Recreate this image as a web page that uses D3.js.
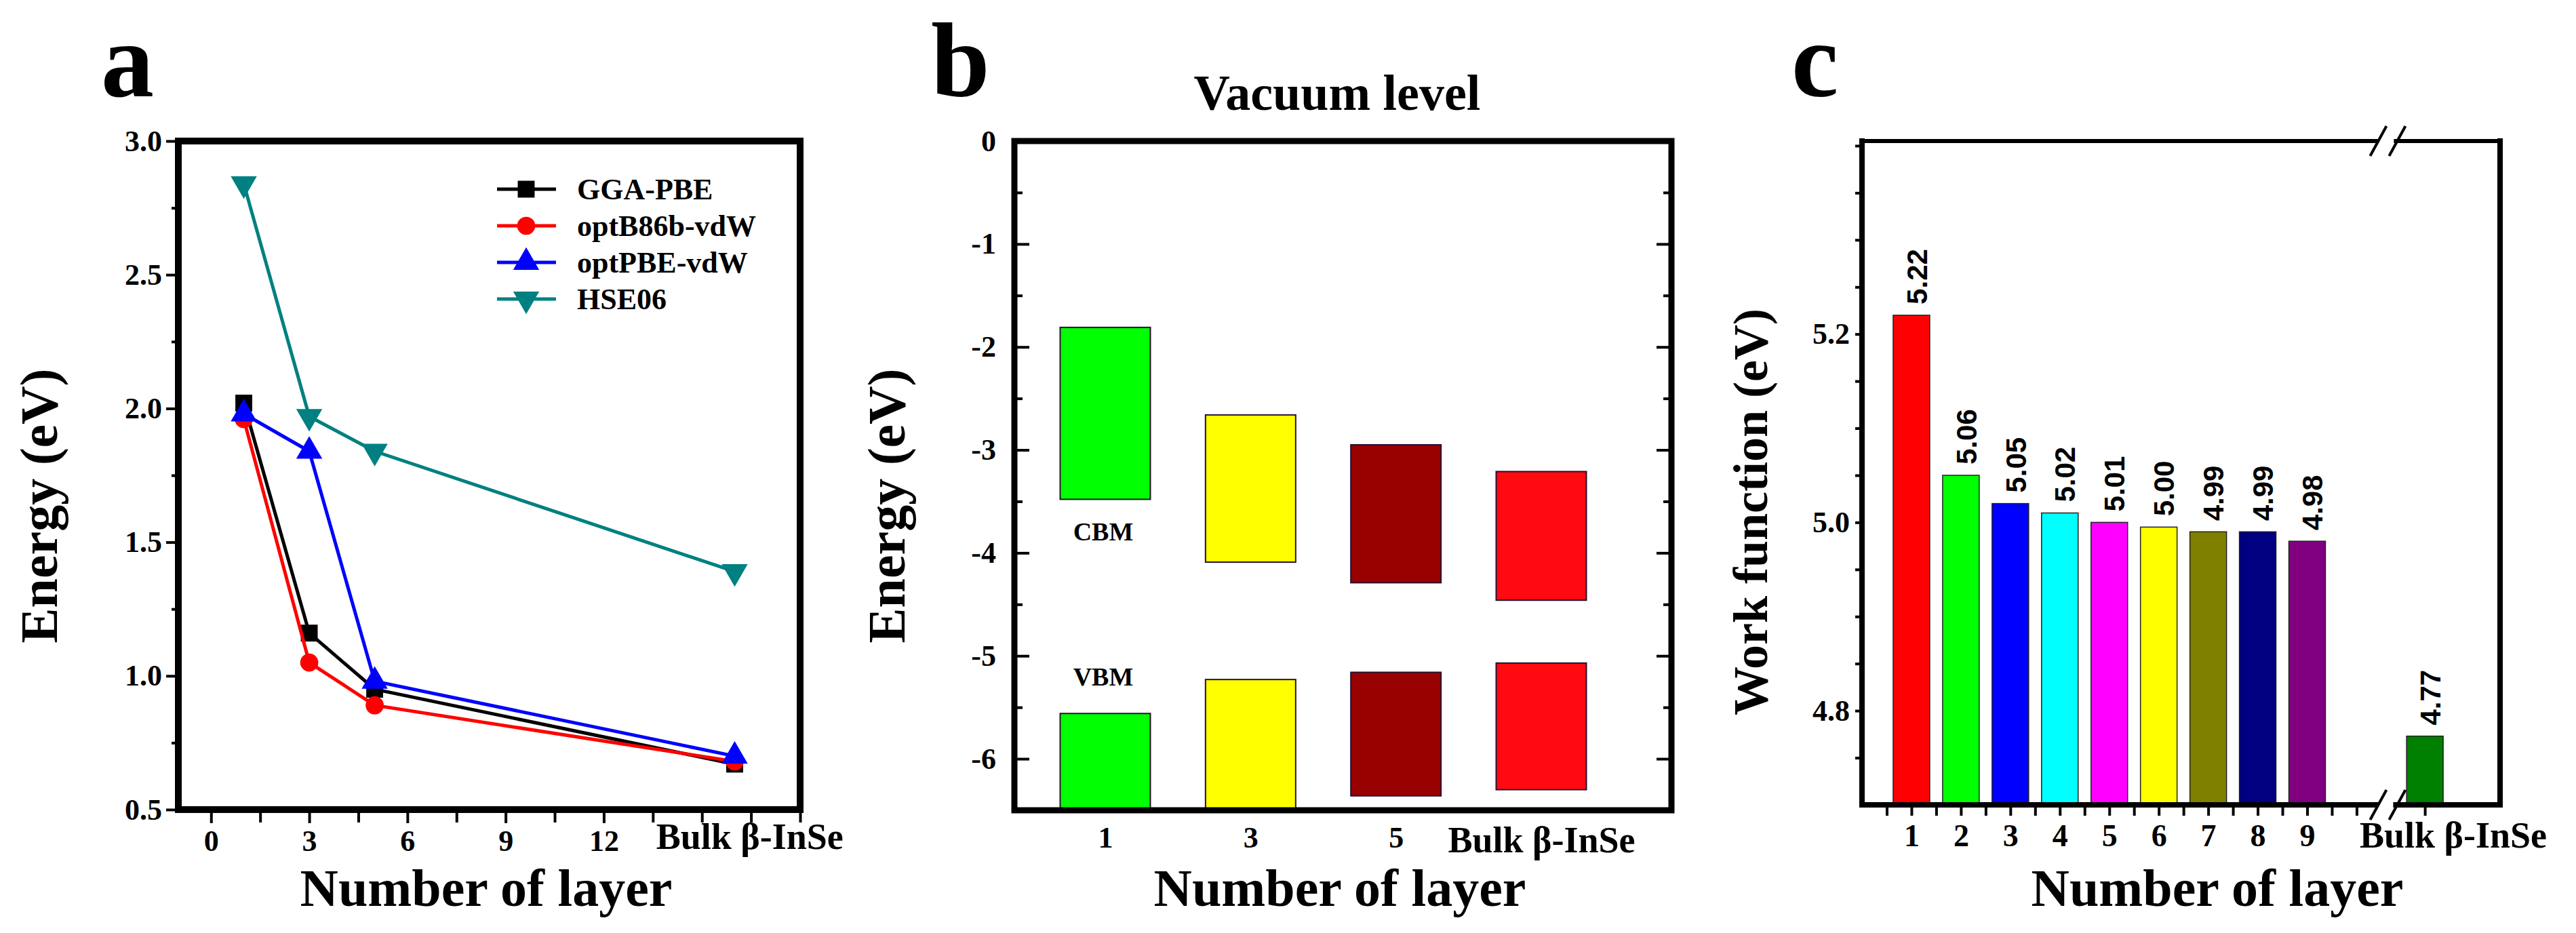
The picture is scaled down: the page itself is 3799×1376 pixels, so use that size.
<!DOCTYPE html>
<html>
<head>
<meta charset="utf-8">
<script src="https://cdn.jsdelivr.net/npm/d3@7"></script>
<style>
  body { margin: 0; background: #fff; }
  svg { display: block; }
</style>
</head>
<body>
<div id="chart"></div>
<script>
// ---- panel a : band gap vs number of layers ----
const layersA = [1, 3, 5, 16];           // 16 = where the bulk point is drawn
const ggaPBE  = [2.02, 1.16, 0.95, 0.67];
const optB86b = [1.96, 1.05, 0.89, 0.68];
const optPBE  = [1.98, 1.84, 0.98, 0.70];
const hse06   = [2.84, 1.97, 1.84, 1.39];
const seriesNamesA = ["GGA-PBE", "optB86b-vdW", "optPBE-vdW", "HSE06"];
const xTicksA = [0, 3, 6, 9, 12];
const yTicksA = [0.5, 1.0, 1.5, 2.0, 2.5, 3.0];

// ---- panel b : band edges relative to vacuum ----
const layersB   = ["1", "3", "5", "Bulk β-InSe"];
const cbmTop    = [-1.81, -2.66, -2.95, -3.21];
const cbmBottom = [-3.48, -4.09, -4.29, -4.46];
const vbmTop    = [-5.56, -5.23, -5.16, -5.07];
const vbmBottom = [-6.50, -6.50, -6.36, -6.30];
const yTicksB   = [0, -1, -2, -3, -4, -5, -6];

// ---- panel c : work function ----
const layersC    = ["1", "2", "3", "4", "5", "6", "7", "8", "9", "Bulk β-InSe"];
const workFn     = [5.22, 5.05, 5.02, 5.01, 5.00, 4.995, 4.99, 4.99, 4.98, 4.773];
const workLabels = ["5.22", "5.06", "5.05", "5.02", "5.01", "5.00", "4.99", "4.99", "4.98", "4.77"];
const yTicksC    = [4.8, 5.0, 5.2];

const serif = "'Liberation Serif', 'Times New Roman', serif";
const colorsA = ["#000000", "#ff0000", "#0000ff", "#008080"];
const colorsB = ["#00ff00", "#ffff00", "#990000", "#ff0a10"];
const colorsC = ["#ff0000", "#00ff00", "#0000ff", "#00ffff", "#ff00ff",
                 "#ffff00", "#808000", "#000080", "#800080", "#008000"];

const W = 3799, H = 1376;
const svg = d3.select("#chart").append("svg")
    .attr("width", W).attr("height", H)
    .style("font-family", serif)
    .style("font-weight", "bold");

svg.append("rect").attr("width", W).attr("height", H).attr("fill", "#fff");

function styleAxis(g, fontSize, tickWidth) {
    g.select(".domain").remove();
    g.selectAll(".tick line").attr("stroke", "#000").attr("stroke-width", tickWidth);
    g.selectAll(".tick text")
        .attr("fill", "#000")
        .style("font-family", serif)
        .style("font-weight", "bold")
        .style("font-size", fontSize + "px");
}

// tick-only axes: drop the empty label nodes
function ticksOnly(g, tickWidth) {
    styleAxis(g, 44, tickWidth);
    g.selectAll(".tick text").remove();
}

function panelLetter(x, text) {
    svg.append("text").attr("x", x).attr("y", 142)
        .style("font-size", "156px").text(text);
}

function yTitle(x, y, text, size) {
    svg.append("text")
        .attr("transform", `translate(${x},${y}) rotate(-90)`)
        .attr("text-anchor", "middle")
        .attr("dy", "0.35em")
        .style("font-size", size + "px")
        .text(text);
}

function xTitle(x, text) {
    svg.append("text").attr("x", x).attr("y", 1336)
        .attr("text-anchor", "middle")
        .style("font-size", "78px")
        .text(text);
}

// =========================== panel a ===========================
{
    const left = 263, right = 1180, top = 208, bottom = 1194;
    const x = d3.scaleLinear().domain([-1, 18]).range([left, right]);
    const y = d3.scaleLinear().domain([0.5, 3.0]).range([bottom, top]);

    panelLetter(149, "a");

    // minor ticks
    svg.append("g").attr("transform", `translate(${left},0)`)
        .call(d3.axisLeft(y).tickValues(d3.range(0.75, 3, 0.5)).tickSize(10))
        .call(g => ticksOnly(g, 4));
    svg.append("g").attr("transform", `translate(0,${bottom})`)
        .call(d3.axisBottom(x).tickValues(d3.range(1.5, 18, 3).concat([15, 18])).tickSize(19))
        .call(g => ticksOnly(g, 4));

    // major ticks
    svg.append("g").attr("transform", `translate(${left},0)`)
        .call(d3.axisLeft(y).tickValues(yTicksA).tickSize(18).tickPadding(6).tickFormat(d3.format(".1f")))
        .call(g => styleAxis(g, 44, 4));
    svg.append("g").attr("transform", `translate(0,${bottom})`)
        .call(d3.axisBottom(x).tickValues(xTicksA).tickSize(20).tickPadding(10))
        .call(g => styleAxis(g, 44, 4));

    svg.append("text").attr("x", x(13.6)).attr("y", 1252)
        .style("font-size", "54px").text("Bulk β-InSe");

    const series = [ggaPBE, optB86b, optPBE, hse06];
    const symbols = [
        {type: d3.symbolSquare, size: 620, rot: 0},
        {type: d3.symbolCircle, size: 560, rot: 0},
        {type: d3.symbolTriangle, size: 640, rot: 0},
        {type: d3.symbolTriangle, size: 640, rot: 180}
    ];
    const line = d3.line().x(d => x(d[0])).y(d => y(d[1]));

    series.forEach((vals, i) => {
        const pts = layersA.map((l, j) => [l, vals[j]]);
        svg.append("path").datum(pts)
            .attr("d", line)
            .attr("fill", "none")
            .attr("stroke", colorsA[i])
            .attr("stroke-width", 5);
        svg.append("g").selectAll("path")
            .data(pts).join("path")
            .attr("transform", d => `translate(${x(d[0])},${y(d[1])}) rotate(${symbols[i].rot})`)
            .attr("d", d3.symbol(symbols[i].type, symbols[i].size))
            .attr("fill", colorsA[i]);
    });

    // legend
    const legend = svg.append("g");
    seriesNamesA.forEach((name, i) => {
        const ly = 279 + i * 54;
        legend.append("line")
            .attr("x1", 733).attr("x2", 820).attr("y1", ly).attr("y2", ly)
            .attr("stroke", colorsA[i]).attr("stroke-width", 5);
        legend.append("path")
            .attr("transform", `translate(776,${ly}) rotate(${symbols[i].rot})`)
            .attr("d", d3.symbol(symbols[i].type, symbols[i].size))
            .attr("fill", colorsA[i]);
        legend.append("text")
            .attr("x", 851).attr("y", ly).attr("dy", "0.35em")
            .style("font-size", "44px")
            .text(name);
    });

    svg.append("rect")
        .attr("x", left).attr("y", top)
        .attr("width", right - left).attr("height", bottom - top)
        .attr("fill", "none").attr("stroke", "#000").attr("stroke-width", 10);

    yTitle(57, 746, "Energy (eV)", 78);
    xTitle(717, "Number of layer");
}

// =========================== panel b ===========================
{
    const left = 1496, right = 2465, top = 208, bottom = 1195;
    const x = d3.scalePoint().domain(layersB).range([1630, 2273]);
    const y = d3.scaleLinear().domain([-6.5, 0]).range([bottom, top]);
    const barW = 133;

    panelLetter(1373, "b");

    svg.append("text").attr("x", 1972).attr("y", 162)
        .attr("text-anchor", "middle")
        .style("font-size", "74px")
        .text("Vacuum level");

    const bars = svg.append("g");
    layersB.forEach((l, i) => {
        [[cbmTop[i], cbmBottom[i]], [vbmTop[i], vbmBottom[i]]].forEach(([t, b]) => {
            bars.append("rect")
                .attr("x", x(l) - barW / 2)
                .attr("y", y(t))
                .attr("width", barW)
                .attr("height", y(b) - y(t))
                .attr("fill", colorsB[i])
                .attr("stroke", "#2a1030")
                .attr("stroke-width", 2);
        });
    });

    svg.append("text").attr("x", 1627).attr("y", 784).attr("dy", "0.35em")
        .attr("text-anchor", "middle").style("font-size", "38px").text("CBM");
    svg.append("text").attr("x", 1627).attr("y", 998).attr("dy", "0.35em")
        .attr("text-anchor", "middle").style("font-size", "38px").text("VBM");

    // inward ticks on both sides, minor every 0.5
    const minorB = d3.range(-6, 0, 1).map(v => v + 0.5);
    [[left, d3.axisLeft], [right, d3.axisRight]].forEach(([xp, axisFn]) => {
        svg.append("g").attr("transform", `translate(${xp},0)`)
            .call(axisFn(y).tickValues(minorB).tickSize(-12))
            .call(g => ticksOnly(g, 4));
        svg.append("g").attr("transform", `translate(${xp},0)`)
            .call(axisFn(y).tickValues(yTicksB).tickSize(-22).tickPadding(27).tickFormat(d => String(d)))
            .call(g => xp === left ? styleAxis(g, 44, 4) : ticksOnly(g, 4));
    });

    svg.append("g").attr("transform", `translate(0,${bottom})`)
        .call(d3.axisBottom(x).tickSize(0).tickPadding(24))
        .call(g => styleAxis(g, 44, 0))
        .call(g => g.selectAll(".tick text").filter(d => d.length > 2).style("font-size", "54px"));

    svg.append("rect")
        .attr("x", left).attr("y", top)
        .attr("width", right - left).attr("height", bottom - top)
        .attr("fill", "none").attr("stroke", "#000").attr("stroke-width", 9);

    yTitle(1307, 746, "Energy (eV)", 78);
    xTitle(1976, "Number of layer");
}

// =========================== panel c ===========================
{
    const left = 2746, right = 3687, top = 208, bottom = 1187;
    const bulkPos = 11.38, breakPos = 10.63;
    const x = d3.scaleLinear().domain([0, 12.9]).range([left, right]);
    const y = d3.scaleLinear().domain([4.7, 5.405]).range([bottom, top]);
    const pos = (d, i) => i < 9 ? i + 1 : bulkPos;
    const barW = x(0.74) - x(0);

    panelLetter(2642, "c");

    svg.append("g").selectAll("rect")
        .data(workFn).join("rect")
        .attr("x", (d, i) => x(pos(d, i)) - barW / 2)
        .attr("y", d => y(d))
        .attr("width", barW)
        .attr("height", d => bottom - y(d))
        .attr("fill", (d, i) => colorsC[i])
        .attr("stroke", "#222")
        .attr("stroke-width", 1.5);

    svg.append("g").selectAll("text")
        .data(workFn).join("text")
        .attr("transform", (d, i) => `translate(${x(pos(d, i)) + 8},${y(d) - 16}) rotate(-90)`)
        .attr("dy", "0.35em")
        .style("font-family", "'Liberation Sans', Arial, sans-serif")
        .style("font-size", "42px")
        .text((d, i) => workLabels[i]);

    // left axis, outward ticks every 0.05
    const minorC = d3.range(0, 14).map(k => 4.75 + k * 0.05).filter(v => !yTicksC.some(t => Math.abs(t - v) < 1e-6));
    svg.append("g").attr("transform", `translate(${left},0)`)
        .call(d3.axisLeft(y).tickValues(minorC).tickSize(10))
        .call(g => ticksOnly(g, 4));
    svg.append("g").attr("transform", `translate(${left},0)`)
        .call(d3.axisLeft(y).tickValues(yTicksC).tickSize(10).tickPadding(8).tickFormat(d3.format(".1f")))
        .call(g => styleAxis(g, 44, 4));

    // bottom axis ticks
    svg.append("g").attr("transform", `translate(0,${bottom})`)
        .call(d3.axisBottom(x).tickValues(d3.range(0.5, 10.01, 0.5).concat([bulkPos])).tickSize(16))
        .call(g => ticksOnly(g, 4));
    svg.append("g").attr("transform", `translate(0,${bottom})`)
        .call(d3.axisBottom(x).tickValues(d3.range(1, 10)).tickSize(0).tickPadding(28).tickFormat(d3.format("d")))
        .call(g => styleAxis(g, 46, 0));
    svg.append("text").attr("x", 3618).attr("y", 1250)
        .attr("text-anchor", "middle")
        .style("font-size", "54px").text(layersC[9]);

    // frame (top thinner, breaks at the axis gap)
    const fx = x(breakPos);
    const frame = svg.append("g").attr("stroke", "#000").attr("fill", "none").attr("stroke-linecap", "square");
    frame.append("line").attr("x1", left).attr("x2", left).attr("y1", top).attr("y2", bottom).attr("stroke-width", 8);
    frame.append("line").attr("x1", right).attr("x2", right).attr("y1", top).attr("y2", bottom).attr("stroke-width", 8);
    [[top, 6], [bottom, 8]].forEach(([yy, sw]) => {
        frame.append("line").attr("x1", left).attr("x2", fx - 18).attr("y1", yy).attr("y2", yy).attr("stroke-width", sw);
        frame.append("line").attr("x1", fx + 12).attr("x2", right).attr("y1", yy).attr("y2", yy).attr("stroke-width", sw);
        [-14, 14].forEach(off => {
            frame.append("line")
                .attr("x1", fx + off - 12).attr("y1", yy + 22)
                .attr("x2", fx + off + 12).attr("y2", yy - 22)
                .attr("stroke-width", 4).attr("stroke-linecap", "butt");
        });
    });

    yTitle(2581, 755, "Work function (eV)", 72);
    xTitle(3270, "Number of layer");
}
</script>
</body>
</html>
